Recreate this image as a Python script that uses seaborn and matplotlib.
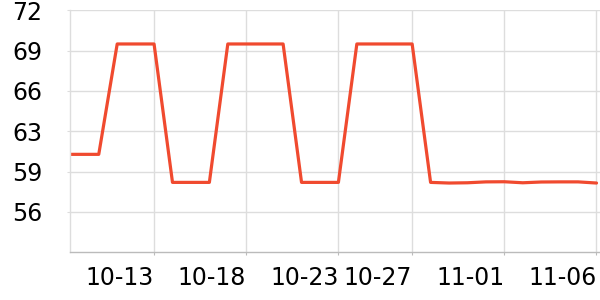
import matplotlib
matplotlib.use("Agg")
import matplotlib.dates as mdates
import matplotlib.pyplot as plt
import pandas as pd
import seaborn as sns

# daily values
dates = pd.date_range("2024-10-08", "2024-11-06", freq="D")
values = [
    60.75, 60.75, 60.75,
    69.37, 69.37, 69.37,
    58.56, 58.56, 58.56,
    69.37, 69.37, 69.37, 69.37,
    58.56, 58.56, 58.56,
    69.37, 69.37, 69.37, 69.37,
    58.56, 58.51, 58.53, 58.60, 58.61, 58.53, 58.59, 58.60, 58.60, 58.51,
]
tick_dates = ["2024-10-13", "2024-10-18", "2024-10-23", "2024-10-27", "2024-11-01", "2024-11-06"]
y_ticks = [56.25, 59.4, 62.55, 65.7, 68.85, 72.0]
y_labels = ["56", "59", "63", "66", "69", "72"]

LINE = "#f04a2f"
GRID = "#dddddd"


def main():
    sns.set_style("whitegrid")
    plt.rcParams["font.family"] = ["DejaVu Sans"]

    df = pd.DataFrame({"date": dates, "value": values})

    fig, ax = plt.subplots(figsize=(6, 3), dpi=100)
    fig.subplots_adjust(left=70 / 600, right=1.0, top=1 - 10.3 / 300, bottom=1 - 252.3 / 300)

    sns.lineplot(data=df, x="date", y="value", ax=ax, color=LINE, linewidth=2.3)

    ax.set_xlim(pd.Timestamp("2024-10-13") - pd.Timedelta(days=4.56),
                pd.Timestamp("2024-11-06") + pd.Timedelta(days=0.19))
    ax.set_ylim(53.1, 72.0)

    ax.set_xticks(pd.to_datetime(tick_dates))
    ax.xaxis.set_major_formatter(mdates.DateFormatter("%m-%d"))
    ax.set_yticks(y_ticks)
    ax.set_yticklabels(y_labels)
    for lab in ax.get_xticklabels():
        lab.set_horizontalalignment("right")

    ax.set_xlabel("")
    ax.set_ylabel("")
    ax.grid(True, color=GRID, linewidth=1.0)
    ax.tick_params(axis="y", labelsize=17, length=2, color=GRID, pad=18, left=True, labelcolor="black")
    ax.tick_params(axis="x", labelsize=17, length=2.5, color="#bbbbbb", pad=7.5, bottom=True, labelcolor="black")

    for side in ["top", "right"]:
        ax.spines[side].set_visible(False)
    ax.spines["left"].set_color(GRID)
    ax.spines["left"].set_linewidth(1.0)
    ax.spines["bottom"].set_color("#bbbbbb")
    ax.spines["bottom"].set_linewidth(1.0)

    fig.savefig("out.png", dpi=100)
    plt.close(fig)


if __name__ == "__main__":
    main()
